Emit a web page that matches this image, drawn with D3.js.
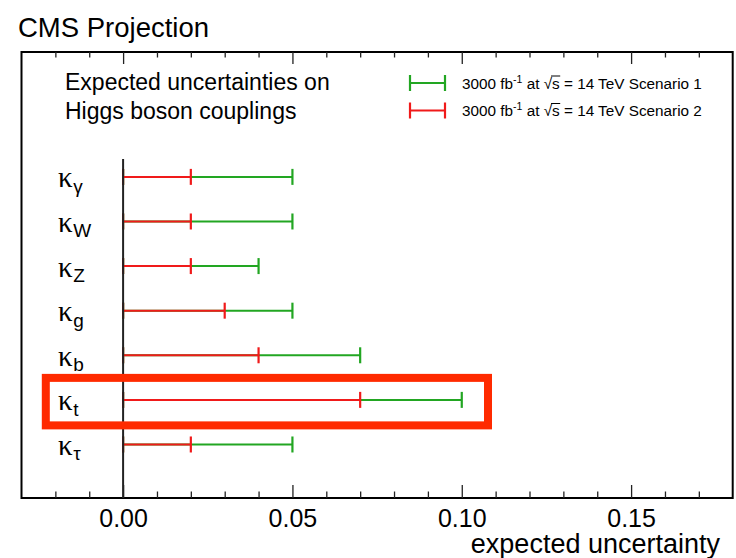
<!DOCTYPE html>
<html>
<head>
<meta charset="utf-8">
<script src="https://cdn.jsdelivr.net/npm/d3@7"></script>
<style>
  html, body { margin: 0; padding: 0; background: #fff; }
  svg { display: block; }
  text { font-family: "Liberation Sans", Arial, Helvetica, sans-serif; fill: #000; }
</style>
</head>
<body>
<svg id="chart" width="736" height="558"></svg>
<script>
// Coupling modifiers, top to bottom, with their subscripts
const couplings = ["γ", "W", "Z", "g", "b", "t", "τ"];
// Expected relative uncertainty on each coupling
const scenario1 = [0.05, 0.05, 0.04, 0.05, 0.07, 0.10, 0.05];
const scenario2 = [0.02, 0.02, 0.02, 0.03, 0.04, 0.07, 0.02];
const scenarioNames = ["Scenario 1", "Scenario 2"];
const majorTicks = [0.00, 0.05, 0.10, 0.15];
const minorTicks = [-0.02, -0.01, 0.01, 0.02, 0.03, 0.04, 0.06, 0.07, 0.08, 0.09,
                    0.11, 0.12, 0.13, 0.14, 0.16, 0.17];
const highlighted = "t";

const colors = { s1: "#22a622", s2: "#f01a1a", box: "#ff2a00", axis: "#000" };

const svg = d3.select("#chart");
const frame = { left: 21.5, right: 732.7, top: 52, bottom: 498 };

const x = d3.scaleLinear().domain([-0.03, 0.18]).range([frame.left, frame.right]);
const y = d3.scaleLinear().domain([0, 10]).range([frame.bottom, frame.top]);
// row position: bottom row sits at 1.2, one unit per coupling
const rowY = i => y(1.2 + (couplings.length - 1 - i));

// Title
svg.append("text").attr("x", 18).attr("y", 37)
  .attr("font-size", 27.5).text("CMS Projection");

// Frame
svg.append("rect")
  .attr("x", frame.left).attr("y", frame.top)
  .attr("width", frame.right - frame.left).attr("height", frame.bottom - frame.top)
  .attr("fill", "none").attr("stroke", "#000").attr("stroke-width", 2);

// Bottom axis: major ticks with labels, minor ticks without
const bottomMajor = d3.axisBottom(x).tickValues(majorTicks)
  .tickFormat(d3.format(".2f")).tickSize(-13).tickPadding(11);
const bottomMinor = d3.axisBottom(x).tickValues(minorTicks)
  .tickFormat("").tickSize(-6.5);
const gB = svg.append("g").attr("transform", `translate(0,${frame.bottom})`);
gB.call(bottomMajor);
gB.append("g").call(bottomMinor);
gB.selectAll(".domain").remove();
gB.selectAll("line").attr("stroke", "#222").attr("stroke-width", 1.3);
gB.selectAll("text").attr("font-size", 25).attr("fill", "#000")
  .attr("font-family", "\"Liberation Sans\", Arial, sans-serif");

// Top axis mirrors the ticks
const gT = svg.append("g").attr("transform", `translate(0,${frame.top})`);
gT.call(d3.axisTop(x).tickValues(majorTicks).tickFormat("").tickSize(-12));
gT.append("g").call(d3.axisTop(x).tickValues(minorTicks).tickFormat("").tickSize(-5.5));
gT.selectAll(".domain").remove();
gT.selectAll("line").attr("stroke", "#222").attr("stroke-width", 1.3);

// Axis title
svg.append("text").attr("x", 720).attr("y", 553).attr("text-anchor", "end")
  .attr("font-size", 27).text("expected uncertainty");

// Caption
svg.append("text").attr("x", 65).attr("y", 90).attr("font-size", 23)
  .text("Expected uncertainties on");
svg.append("text").attr("x", 65).attr("y", 119).attr("font-size", 23)
  .text("Higgs boson couplings");

// Error bars: scenario 1 first, scenario 2 drawn over it from zero
const capH = 16;
function drawBar(g, x0, x1, yy, color) {
  g.append("line").attr("x1", x(x0)).attr("x2", x(x1)).attr("y1", yy).attr("y2", yy)
    .attr("stroke", color).attr("stroke-width", 2);
  [x0, x1].forEach(v => g.append("line")
    .attr("x1", x(v)).attr("x2", x(v)).attr("y1", yy - capH / 2).attr("y2", yy + capH / 2)
    .attr("stroke", color).attr("stroke-width", 2.2));
}
const bars = svg.append("g");
couplings.forEach((c, i) => {
  const yy = rowY(i);
  drawBar(bars, 0, scenario1[i], yy, colors.s1);
  drawBar(bars, 0, scenario2[i], yy, colors.s2);
});

// Zero reference line
svg.append("line").attr("x1", x(0)).attr("x2", x(0))
  .attr("y1", y(7.6)).attr("y2", y(0))
  .attr("stroke", "#222").attr("stroke-width", 2);

// Row labels: kappa with subscript
couplings.forEach((c, i) => {
  const yy = rowY(i);
  const t = svg.append("text").attr("x", 58).attr("y", yy + 10.5);
  t.append("tspan").attr("font-family", "\"Liberation Serif\", \"Times New Roman\", serif")
    .attr("font-size", 29).text("κ");
  t.append("tspan").attr("font-size", 19).attr("dy", 5.5).attr("dx", 0.5).text(c);
});

// Highlight box around the top-quark coupling
const hi = couplings.indexOf(highlighted);
svg.append("rect")
  .attr("x", 45.8).attr("y", rowY(hi) - 22)
  .attr("width", 488 - 45.8).attr("height", 47.5)
  .attr("fill", "none").attr("stroke", colors.box).attr("stroke-width", 8);

// Legend
const legend = svg.append("g");
[colors.s1, colors.s2].forEach((col, k) => {
  const ly = 83 + k * 27.5;
  legend.append("line").attr("x1", 410).attr("x2", 445).attr("y1", ly).attr("y2", ly)
    .attr("stroke", col).attr("stroke-width", 2);
  [410, 445].forEach(px => legend.append("line").attr("x1", px).attr("x2", px)
    .attr("y1", ly - 8).attr("y2", ly + 8).attr("stroke", col).attr("stroke-width", 2.2));
  const t = legend.append("text").attr("x", 462).attr("y", ly + 5.5).attr("font-size", 15.3);
  t.append("tspan").text("3000 fb");
  t.append("tspan").attr("font-size", 10.5).attr("dy", -6).text("-1");
  t.append("tspan").attr("dy", 6).text(" at  √");
  const s = t.append("tspan").text("s");
  t.append("tspan").text(" = 14 TeV " + scenarioNames[k]);
  // overbar of the square root
  const node = s.node();
  const start = node.getStartPositionOfChar(0);
  const end = node.getEndPositionOfChar(0);
  legend.append("line").attr("x1", start.x - 1).attr("x2", end.x + 0.5)
    .attr("y1", ly - 7).attr("y2", ly - 7).attr("stroke", "#000").attr("stroke-width", 1);
});
</script>
</body>
</html>
